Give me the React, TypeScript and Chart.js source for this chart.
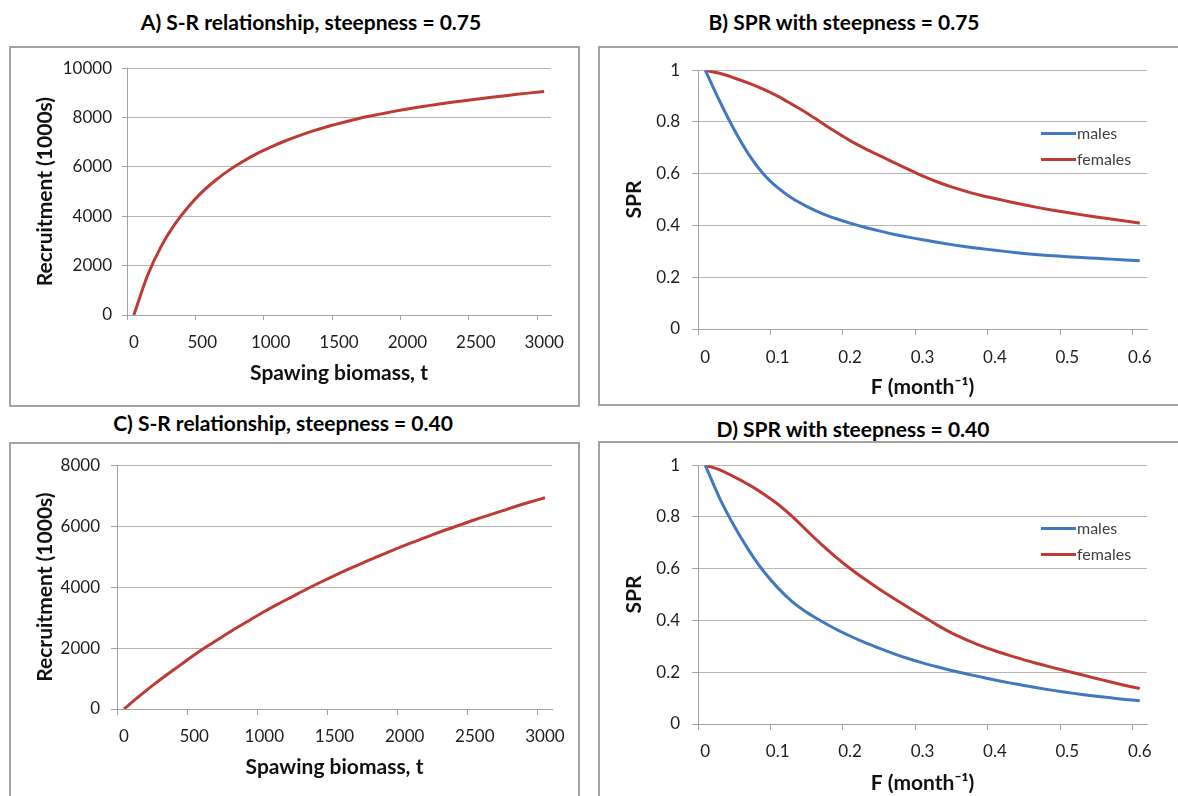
import React, { useEffect, useRef } from 'react';
import { Chart, registerables } from 'chart.js';

Chart.register(...registerables);

// ---------- data ----------
const biomassLabels = ['0', '100', '200', '300', '400', '500', '600', '700', '800', '900', '1000', '1100', '1200', '1300', '1400', '1500', '1600', '1700', '1800', '1900', '2000', '2100', '2200', '2300', '2400', '2500', '2600', '2700', '2800', '2900', '3000'];
const fLabels = ['0', '0.02', '0.04', '0.06', '0.08', '0.1', '0.12', '0.14', '0.16', '0.18', '0.2', '0.22', '0.24', '0.26', '0.28', '0.3', '0.32', '0.34', '0.36', '0.38', '0.4', '0.42', '0.44', '0.46', '0.48', '0.5', '0.52', '0.54', '0.56', '0.58', '0.6'];

// A) recruitment (1000s), steepness 0.75
const recruitA = [0, 1600, 2780, 3680, 4400, 4990, 5470, 5880, 6230, 6540, 6800, 7040, 7250, 7440, 7610, 7760, 7900, 8030, 8140, 8250, 8350, 8440, 8520, 8600, 8670, 8740, 8810, 8875, 8940, 9000, 9060];
// C) recruitment (1000s), steepness 0.40
const recruitC = [0, 390, 760, 1110, 1440, 1770, 2080, 2370, 2660, 2930, 3200, 3450, 3690, 3930, 4160, 4380, 4590, 4790, 4990, 5180, 5370, 5540, 5720, 5890, 6050, 6210, 6360, 6510, 6660, 6800, 6930];
// B) SPR, steepness 0.75
const malesB = [1.0, 0.88, 0.77, 0.675, 0.6, 0.546, 0.505, 0.474, 0.448, 0.427, 0.409, 0.393, 0.379, 0.366, 0.355, 0.345, 0.335, 0.326, 0.318, 0.311, 0.304, 0.298, 0.292, 0.287, 0.283, 0.279, 0.276, 0.273, 0.27, 0.267, 0.264];
const femalesB = [1.0, 0.988, 0.97, 0.95, 0.927, 0.9, 0.868, 0.835, 0.798, 0.762, 0.728, 0.698, 0.671, 0.644, 0.618, 0.592, 0.569, 0.549, 0.532, 0.517, 0.504, 0.492, 0.48, 0.469, 0.459, 0.45, 0.441, 0.433, 0.425, 0.417, 0.409];
// D) SPR, steepness 0.40
const malesD = [1.0, 0.872, 0.765, 0.672, 0.592, 0.527, 0.473, 0.432, 0.398, 0.367, 0.34, 0.315, 0.293, 0.272, 0.253, 0.236, 0.221, 0.207, 0.194, 0.182, 0.17, 0.159, 0.149, 0.139, 0.13, 0.122, 0.114, 0.107, 0.101, 0.095, 0.09];
const femalesD = [1.0, 0.982, 0.955, 0.925, 0.89, 0.85, 0.802, 0.748, 0.695, 0.646, 0.601, 0.56, 0.522, 0.486, 0.451, 0.417, 0.383, 0.352, 0.326, 0.303, 0.283, 0.265, 0.248, 0.233, 0.218, 0.204, 0.19, 0.176, 0.162, 0.149, 0.137];

const legendNames = ['males', 'females'];

// ---------- style ----------
const GRID = '#bab3b3';
const AXIS = '#a8a1a1';
const RED = '#be3b35';
const BLUE = '#4079c0';
const FONT = 'Lato, "Open Sans", sans-serif';
const TICK_COLOR = '#1e1e1e';

type Series = { data: number[]; color: string; label: string };

interface PanelProps {
  left: number;
  top: number;
  width: number;
  height: number;
  area: { left: number; right: number; top: number; bottom: number };
  labels: string[];
  series: Series[];
  yMax: number;
  yStep: number;
  xTitle: string;
  yTitle: string;
  xTickPad: number;
  yTickPad: number;
  tickLen: number;
  xTitlePad: number;
  yTitlePad: number;
}

function Panel(p: PanelProps) {
  const ref = useRef<HTMLCanvasElement | null>(null);
  useEffect(() => {
    if (!ref.current) return;
    const chart = new Chart(ref.current, {
      type: 'line',
      data: {
        labels: p.labels,
        datasets: p.series.map((s) => ({
          label: s.label,
          data: s.data,
          borderColor: s.color,
          backgroundColor: s.color,
          borderWidth: 3,
          pointRadius: 0,
          cubicInterpolationMode: 'monotone' as const,
          fill: false,
        })),
      },
      options: {
        responsive: false,
        maintainAspectRatio: false,
        animation: false,
        devicePixelRatio: 1,
        layout: {
          padding: { top: p.area.top, right: p.width - p.area.right, left: 0, bottom: 0 },
        },
        plugins: {
          legend: { display: false },
          tooltip: { enabled: false },
          title: { display: false },
        },
        scales: {
          x: {
            type: 'category',
            offset: true,
            afterFit: (s: any) => {
              s.height = p.height - p.area.bottom;
            },
            grid: {
              offset: true,
              drawOnChartArea: false,
              drawTicks: true,
              tickLength: p.tickLen,
              tickWidth: 1,
              tickColor: (ctx: any) => (typeof ctx.index === 'number' && ctx.index % 5 === 0 ? AXIS : 'rgba(0,0,0,0)'),
            },
            border: { color: AXIS, width: 1 },
            ticks: {
              autoSkip: false,
              maxRotation: 0,
              minRotation: 0,
              padding: p.xTickPad,
              color: TICK_COLOR,
              font: { family: FONT, size: 17 },
              callback: (_v: any, i: number) => (i % 5 === 0 ? p.labels[i] : ''),
            },
            title: {
              display: true,
              text: p.xTitle,
              color: '#111',
              font: { family: FONT, size: 21, weight: 'bold' },
              padding: { top: 0, bottom: p.xTitlePad },
            },
          },
          y: {
            type: 'linear',
            min: 0,
            max: p.yMax,
            afterFit: (s: any) => {
              s.width = p.area.left;
            },
            grid: {
              color: GRID,
              lineWidth: 1,
              drawTicks: true,
              tickLength: p.tickLen,
              tickColor: AXIS,
            },
            border: { color: AXIS, width: 1 },
            ticks: {
              stepSize: p.yStep,
              padding: p.yTickPad,
              color: TICK_COLOR,
              font: { family: FONT, size: 17 },
              callback: (v: any) => String(Number(Number(v).toFixed(2))),
            },
            title: {
              display: true,
              text: p.yTitle,
              color: '#111',
              font: { family: FONT, size: 21, weight: 'bold' },
              padding: { top: p.yTitlePad, bottom: 0 },
            },
          },
        },
      } as any,
    });
    return () => chart.destroy();
  }, []);
  return (
    <canvas
      ref={ref}
      width={p.width}
      height={p.height}
      style={{ position: 'absolute', left: p.left, top: p.top, width: p.width, height: p.height }}
    />
  );
}

function Title({ cx, cy, text }: { cx: number; cy: number; text: string }) {
  return (
    <div
      style={{
        position: 'absolute',
        left: cx - 300,
        top: cy - 13,
        width: 600,
        textAlign: 'center',
        fontFamily: FONT,
        fontWeight: 700,
        fontSize: 21,
        lineHeight: '26px',
        color: '#000',
        whiteSpace: 'nowrap',
      }}
    >
      {text}
    </div>
  );
}

function Box({ left, top, width, height }: { left: number; top: number; width: number; height: number }) {
  return (
    <div
      style={{
        position: 'absolute',
        left,
        top,
        width,
        height,
        boxSizing: 'border-box',
        border: '2px solid #a3a3a3',
        background: '#fff',
      }}
    />
  );
}

function Legend({ x, y, gap }: { x: number; y: number; gap: number }) {
  const colors = [BLUE, RED];
  return (
    <>
      {legendNames.map((name, i) => (
        <React.Fragment key={name}>
          <div
            style={{
              position: 'absolute',
              left: x,
              top: y + i * gap - 1.5,
              width: 35,
              height: 3,
              background: colors[i],
            }}
          />
          <div
            style={{
              position: 'absolute',
              left: x + 36,
              top: y + i * gap - 10,
              fontFamily: FONT,
              fontSize: 16,
              lineHeight: '20px',
              color: '#404040',
              whiteSpace: 'nowrap',
            }}
          >
            {name}
          </div>
        </React.Fragment>
      ))}
    </>
  );
}

export default function App() {
  return (
    <div
      style={{
        position: 'absolute',
        left: 0,
        top: 0,
        width: 1178,
        height: 796,
        overflow: 'hidden',
        background: '#fff',
      }}
    >
      <Box left={9} top={46} width={571} height={361} />
      <Box left={598} top={46} width={600} height={360} />
      <Box left={9} top={442} width={571} height={400} />
      <Box left={598} top={441} width={600} height={400} />

      <Title cx={311} cy={22} text="A) S-R relationship, steepness = 0.75" />
      <Title cx={844} cy={22} text="B) SPR with steepness = 0.75" />
      <Title cx={283} cy={423} text="C) S-R relationship, steepness = 0.40" />
      <Title cx={853} cy={429} text="D) SPR with steepness = 0.40" />

      <Panel
        left={11}
        top={48}
        width={567}
        height={357}
        area={{ left: 116, right: 540, top: 18, bottom: 267 }}
        labels={biomassLabels}
        series={[{ data: recruitA, color: RED, label: 'Recruitment' }]}
        yMax={10000}
        yStep={2000}
        xTitle="Spawing biomass, t"
        yTitle="Recruitment (1000s)"
        xTickPad={12}
        yTickPad={10}
        tickLen={5}
        xTitlePad={19.4}
        yTitlePad={21.4}
      />
      <Panel
        left={600}
        top={48}
        width={578}
        height={357}
        area={{ left: 98, right: 547, top: 16.5, bottom: 281 }}
        labels={fLabels}
        series={[
          { data: malesB, color: BLUE, label: legendNames[0] },
          { data: femalesB, color: RED, label: legendNames[1] },
        ]}
        yMax={1}
        yStep={0.2}
        xTitle="F (month⁻¹)"
        yTitle="SPR"
        xTickPad={12}
        yTickPad={12}
        tickLen={6}
        xTitlePad={5.4}
        yTitlePad={21.4}
      />
      <Panel
        left={11}
        top={444}
        width={567}
        height={352}
        area={{ left: 106, right: 541, top: 18, bottom: 265 }}
        labels={biomassLabels}
        series={[{ data: recruitC, color: RED, label: 'Recruitment' }]}
        yMax={8000}
        yStep={2000}
        xTitle="Spawing biomass, t"
        yTitle="Recruitment (1000s)"
        xTickPad={11}
        yTickPad={11}
        tickLen={6}
        xTitlePad={16.4}
        yTitlePad={21.4}
      />
      <Panel
        left={600}
        top={443}
        width={578}
        height={353}
        area={{ left: 98, right: 547, top: 16.3, bottom: 281 }}
        labels={fLabels}
        series={[
          { data: malesD, color: BLUE, label: legendNames[0] },
          { data: femalesD, color: RED, label: legendNames[1] },
        ]}
        yMax={1}
        yStep={0.2}
        xTitle="F (month⁻¹)"
        yTitle="SPR"
        xTickPad={11}
        yTickPad={12}
        tickLen={6}
        xTitlePad={0.4}
        yTitlePad={21.4}
      />

      <Legend x={1041} y={133} gap={26} />
      <Legend x={1041} y={528} gap={26} />
    </div>
  );
}
